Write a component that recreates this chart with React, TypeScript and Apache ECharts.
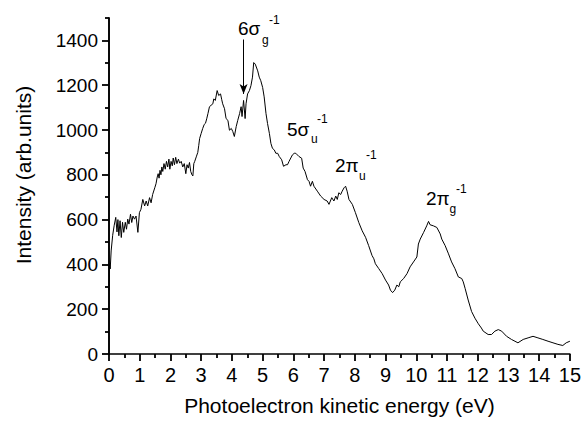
import React, { useEffect, useRef } from "react";
import * as echarts from "echarts";

// Photoelectron spectrum: kinetic energy (eV) and intensity (arb. units)
const energy: number[] = [
  0.0, 0.02, 0.04, 0.07, 0.12, 0.17, 0.22, 0.26, 0.29, 0.32, 0.36, 0.4, 0.44, 0.48, 0.53, 0.57, 0.61, 0.65,
  0.7, 0.74, 0.78, 0.83, 0.88, 0.94, 0.99, 1.04, 1.1, 1.16, 1.21, 1.26, 1.32, 1.37, 1.42, 1.49, 1.53, 1.57,
  1.6, 1.63, 1.66, 1.69, 1.72, 1.75, 1.79, 1.83, 1.87, 1.91, 1.95, 1.98, 2.02, 2.06, 2.09, 2.13, 2.17, 2.21,
  2.26, 2.3, 2.35, 2.4, 2.45, 2.5, 2.54, 2.58, 2.62, 2.66, 2.7, 2.73, 2.76, 2.79, 2.84, 2.89, 2.92, 2.95,
  3.0, 3.05, 3.1, 3.14, 3.18, 3.22, 3.27, 3.32, 3.38, 3.41, 3.46, 3.52, 3.57, 3.63, 3.67, 3.7, 3.76, 3.81,
  3.87, 3.92, 3.98, 4.03, 4.08, 4.14, 4.19, 4.25, 4.3, 4.33, 4.38, 4.43, 4.46, 4.51, 4.57, 4.62, 4.67, 4.71,
  4.76, 4.84, 4.89, 4.94, 5.0, 5.05, 5.11, 5.16, 5.22, 5.27, 5.32, 5.38, 5.43, 5.49, 5.54, 5.62, 5.68, 5.76,
  5.81, 5.86, 5.97, 6.03, 6.08, 6.18, 6.27, 6.32, 6.38, 6.46, 6.51, 6.56, 6.62, 6.67, 6.78, 6.89, 7.0, 7.1,
  7.16, 7.25, 7.32, 7.38, 7.43, 7.48, 7.54, 7.59, 7.65, 7.7, 7.75, 7.81, 7.92, 8.02, 8.13, 8.24, 8.35, 8.45,
  8.56, 8.62, 8.67, 8.78, 8.89, 9.0, 9.1, 9.16, 9.23, 9.3, 9.37, 9.43, 9.48, 9.59, 9.7, 9.8, 9.91, 10.02,
  10.07, 10.13, 10.24, 10.34, 10.4, 10.45, 10.56, 10.67, 10.78, 10.83, 10.94, 11.05, 11.15, 11.26, 11.37,
  11.48, 11.53, 11.59, 11.69, 11.8, 11.91, 12.02, 12.12, 12.18, 12.34, 12.45, 12.56, 12.67, 12.78, 12.94,
  13.1, 13.31, 13.48, 13.64, 13.8, 13.96, 14.12, 14.29, 14.45, 14.61, 14.77, 14.88, 15.0,
];

const intensity: number[] = [
  285, 400, 380, 460, 530, 575, 610, 545, 600, 528, 595, 520, 588, 543, 588, 557, 602, 580,
  624, 587, 616, 602, 616, 543, 631, 646, 690, 661, 683, 661, 698, 675, 712, 742, 760, 790,
  805, 785, 820, 800, 835, 815, 850, 825, 860, 835, 870, 825, 860, 840, 875, 845, 878, 850,
  870, 852, 860, 835, 850, 805, 845, 830, 855, 815, 800, 795, 850, 860, 880, 900, 930, 962,
  985, 1007, 1025, 1030, 1050, 1073, 1104, 1110, 1117, 1139, 1132, 1176, 1154, 1161, 1135, 1117, 1095, 1051,
  1043, 999, 1007, 993, 971, 1015, 1043, 1073, 1104, 1060, 1132, 1051, 1117, 1161, 1176, 1198, 1236, 1301,
  1294, 1264, 1236, 1220, 1190, 1148, 1073, 1029, 985, 940, 918, 911, 896, 896, 882, 867, 838, 845,
  845, 860, 889, 896, 896, 882, 874, 830, 815, 778, 771, 749, 771, 749, 727, 705, 690, 683,
  668, 698, 683, 705, 690, 720, 712, 727, 742, 749, 727, 690, 668, 631, 587, 550, 521, 484,
  440, 425, 403, 381, 359, 330, 308, 285, 274, 285, 308, 300, 322, 337, 359, 389, 411, 433,
  491, 513, 543, 572, 592, 577, 572, 565, 536, 513, 484, 447, 411, 381, 344,
  337, 322, 293, 241, 190, 160, 135, 116, 102, 87, 87, 102, 109, 102, 79,
  65, 50, 65, 72, 79, 72, 65, 57, 50, 43, 38, 50, 57,
];

// Tick positions on the intensity axis
const yMajorTicks: number[] = [0, 200, 400, 600, 800, 1000, 1200, 1400];
const yMinorTicks: number[] = [100, 300, 500, 700, 900, 1100, 1300, 1500];

// Arrow marking the 6σg band: energy, start and end intensity
const arrowEnergy = 4.38;
const arrowFrom = 1404;
const arrowTo = 1161;

const FONT = "'Liberation Sans', Arial, Helvetica, sans-serif";

function bandLabel(
  main: string,
  sub: string,
  x: number,
  y: number,
  subDx: number,
  subDy: number,
  supDx: number,
  supDy: number
) {
  return {
    type: "group",
    x,
    y,
    children: [
      {
        type: "text",
        x: 0,
        y: 0,
        style: { text: main, font: `19px ${FONT}`, fill: "#000", align: "left", verticalAlign: "middle" },
      },
      {
        type: "text",
        x: subDx,
        y: subDy,
        style: { text: sub, font: `12px ${FONT}`, fill: "#000", align: "left", verticalAlign: "middle" },
      },
      {
        type: "text",
        x: supDx,
        y: supDy,
        style: { text: "-1", font: `12px ${FONT}`, fill: "#000", align: "left", verticalAlign: "middle" },
      },
    ],
  };
}

export default function App() {
  const ref = useRef<HTMLDivElement>(null);

  useEffect(() => {
    if (!ref.current) return;
    const chart = echarts.init(ref.current, undefined, { renderer: "svg" });
    const points = energy.map((e, i) => [e, intensity[i]]);

    chart.setOption({
      animation: false,
      backgroundColor: "#fff",
      grid: { left: 109, right: 12, top: 18, bottom: 63 },
      xAxis: {
        type: "value",
        min: 0,
        max: 15,
        interval: 1,
        name: "Photoelectron kinetic energy (eV)",
        nameLocation: "middle",
        nameGap: 41,
        nameTextStyle: { fontFamily: FONT, fontSize: 21, color: "#000" },
        axisLine: { show: true, lineStyle: { color: "#000", width: 1.6 } },
        axisTick: { show: true, length: 7, lineStyle: { color: "#000", width: 1.8 } },
        minorTick: { show: true, splitNumber: 2, length: 4, lineStyle: { color: "#000", width: 1.8 } },
        axisLabel: { fontFamily: FONT, fontSize: 20, color: "#000", margin: 11, formatter: (v: number) => String(v) },
        splitLine: { show: false },
      },
      yAxis: [
        {
          type: "value",
          min: 0,
          max: 1500,
          interval: 100,
          axisLine: { show: true, lineStyle: { color: "#000", width: 1.6 } },
          axisTick: { show: true, length: 7, lineStyle: { color: "#000", width: 1.8 }, customValues: yMajorTicks },
          axisLabel: {
            fontFamily: FONT,
            fontSize: 19,
            color: "#000",
            margin: 11,
            customValues: yMajorTicks,
            formatter: (v: number) => String(v),
          },
          splitLine: { show: false },
        },
        {
          type: "value",
          min: 0,
          max: 1500,
          interval: 100,
          position: "left",
          axisLine: { show: true, lineStyle: { color: "#000", width: 1.6 } },
          axisTick: { show: true, length: 4, lineStyle: { color: "#000", width: 1.8 }, customValues: yMinorTicks },
          axisLabel: { show: false },
          splitLine: { show: false },
        },
      ],
      series: [
        {
          type: "line",
          data: points,
          yAxisIndex: 0,
          showSymbol: false,
          symbol: "none",
          lineStyle: { color: "#000", width: 1 },
          markLine: {
            silent: true,
            symbol: ["none", "arrow"],
            symbolSize: [6, 10],
            label: { show: false },
            lineStyle: { color: "#000", width: 1, type: "solid" },
            data: [[{ coord: [arrowEnergy, arrowFrom] }, { coord: [arrowEnergy, arrowTo] }]],
          },
        },
      ],
      graphic: [
        {
          type: "text",
          x: 23.5,
          y: 175,
          rotation: Math.PI / 2,
          style: {
            text: "Intensity (arb.units)",
            font: `21px ${FONT}`,
            fill: "#000",
            align: "center",
            verticalAlign: "middle",
          },
        },
        bandLabel("6σ", "g", 238, 28.5, 24, 11, 31, -8.5),
        bandLabel("5σ", "u", 287, 129, 24, 10, 30, -10),
        bandLabel("2π", "u", 335, 165, 24, 11, 31, -10),
        bandLabel("2π", "g", 426, 198, 23.5, 11, 30, -9),
      ],
    });

    return () => chart.dispose();
  }, []);

  return (
    <div
      ref={ref}
      style={{ position: "fixed", left: 0, top: 0, width: 584, height: 421, background: "#fff" }}
    />
  );
}
